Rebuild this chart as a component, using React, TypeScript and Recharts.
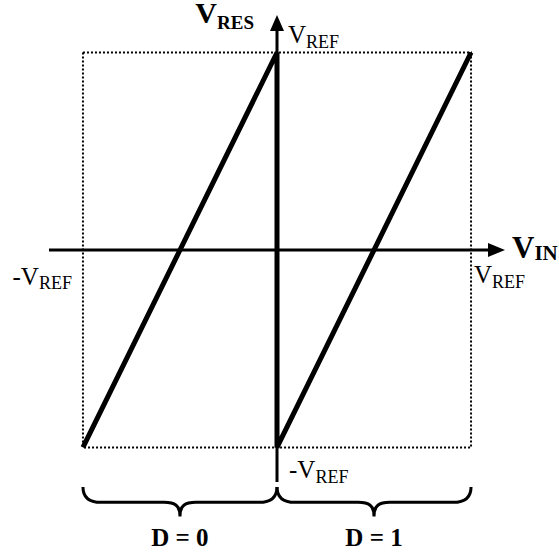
import React from "react";
import {
  ComposedChart,
  Line,
  XAxis,
  YAxis,
  ReferenceLine,
  ReferenceArea,
  ReferenceDot,
} from "recharts";

// transfer function, in units of V_REF
const inputLevels = [-1, 0, 0, 1];
const residueLevels = [-1, 1, -1, 1];

// axis extents (arrow tips)
const xAxisSpan = [-1.175, 1.175];
const yAxisSpan = [-1.175, 1.19];

// digital output regions under the plot
const regionNames = ["D = 0", "D = 1"];
const regionStarts = [-1, 0];
const regionEnds = [0, 1];
const braceTop = -1.2;
const braceBottom = -1.35;

const SERIF = "'Liberation Serif', 'Times New Roman', serif";

const data = inputLevels.map((x, i) => ({ x, y: residueLevels[i] }));

type LabelSpec = {
  x: number;
  y: number;
  main: string;
  sub: string;
  dx: number;
  dy: number;
  anchor: "start" | "end";
  bold?: boolean;
  size: number;
  subSize: number;
  subDy: number;
};

const labels: LabelSpec[] = [
  { x: 0, y: 1, main: "V", sub: "REF", dx: 11, dy: -10, anchor: "start", size: 25, subSize: 18, subDy: 5 },
  { x: -1, y: 0, main: "-V", sub: "REF", dx: -11, dy: 35, anchor: "end", size: 25, subSize: 18, subDy: 4 },
  { x: 1, y: 0, main: "V", sub: "REF", dx: 3, dy: 33, anchor: "start", size: 25, subSize: 18, subDy: 5 },
  { x: 0, y: -1, main: "-V", sub: "REF", dx: 12, dy: 31, anchor: "start", size: 25, subSize: 18, subDy: 5 },
  { x: xAxisSpan[1], y: 0, main: "V", sub: "IN", dx: 7, dy: 8, anchor: "start", bold: true, size: 31, subSize: 21, subDy: 2 },
  { x: 0, y: yAxisSpan[1], main: "V", sub: "RES", dx: -23, dy: 8, anchor: "end", bold: true, size: 30, subSize: 19, subDy: 6 },
];

const Brace = (props: any) => {
  const { x, y, width, height, name } = props;
  const mid = y + height * 0.52;
  const cx = x + width / 2;
  const b = y + height;
  const d = [
    `M ${x} ${y}`,
    `C ${x} ${y + 9} ${x + 5} ${mid} ${x + 18} ${mid}`,
    `L ${cx - 16} ${mid}`,
    `C ${cx - 5} ${mid} ${cx} ${mid + 3} ${cx} ${b}`,
    `C ${cx} ${mid + 3} ${cx + 5} ${mid} ${cx + 16} ${mid}`,
    `L ${x + width - 18} ${mid}`,
    `C ${x + width - 5} ${mid} ${x + width} ${y + 9} ${x + width} ${y}`,
  ].join(" ");
  return (
    <g>
      <path d={d} fill="none" stroke="#000" strokeWidth={3} />
      <text
        x={cx}
        y={b + 29}
        textAnchor="middle"
        fontFamily={SERIF}
        fontWeight="bold"
        fontSize={25}
        fill="#000"
      >
        {name}
      </text>
    </g>
  );
};

export default function App() {
  return (
    <div style={{ position: "absolute", left: 0, top: 0, background: "#fff" }}>
      <ComposedChart
        width={559}
        height={556}
        data={data}
        margin={{ top: 15, right: 54, bottom: 74, left: 49 }}
      >
        <XAxis type="number" dataKey="x" domain={xAxisSpan} hide allowDataOverflow />
        <YAxis type="number" dataKey="y" domain={yAxisSpan} hide allowDataOverflow />

        {/* dotted full-scale box */}
        <ReferenceArea
          x1={-1}
          x2={1}
          y1={-1}
          y2={1}
          fill="none"
          fillOpacity={0}
          stroke="#000"
          strokeWidth={2}
          strokeDasharray="2 2"
        />

        {/* axes */}
        <ReferenceLine
          segment={[{ x: xAxisSpan[0], y: 0 }, { x: xAxisSpan[1] - 0.06, y: 0 }]}
          stroke="#000"
          strokeWidth={3}
          ifOverflow="visible"
        />
        <ReferenceLine
          segment={[{ x: 0, y: yAxisSpan[0] }, { x: 0, y: yAxisSpan[1] - 0.06 }]}
          stroke="#000"
          strokeWidth={3}
          ifOverflow="visible"
        />
        <ReferenceDot
          x={xAxisSpan[1]}
          y={0}
          ifOverflow="visible"
          shape={(p: any) => (
            <polygon
              points={`${p.cx},${p.cy} ${p.cx - 17},${p.cy - 7} ${p.cx - 17},${p.cy + 7}`}
              fill="#000"
            />
          )}
        />
        <ReferenceDot
          x={0}
          y={yAxisSpan[1]}
          ifOverflow="visible"
          shape={(p: any) => (
            <polygon
              points={`${p.cx},${p.cy} ${p.cx - 7},${p.cy + 16} ${p.cx + 7},${p.cy + 16}`}
              fill="#000"
            />
          )}
        />

        {/* residue transfer curve */}
        <Line
          type="linear"
          dataKey="y"
          stroke="#000"
          strokeWidth={5}
          strokeLinejoin="bevel"
          dot={false}
          activeDot={false}
          isAnimationActive={false}
        />

        {/* braces for output code regions */}
        {regionNames.map((name, i) => (
          <ReferenceArea
            key={name}
            x1={regionStarts[i]}
            x2={regionEnds[i]}
            y1={braceBottom}
            y2={braceTop}
            ifOverflow="visible"
            shape={(p: any) => <Brace {...p} name={name} />}
          />
        ))}

        {labels.map((l, i) => (
          <ReferenceDot
            key={i}
            x={l.x}
            y={l.y}
            ifOverflow="visible"
            shape={(p: any) => (
              <text
                x={p.cx + l.dx}
                y={p.cy + l.dy}
                textAnchor={l.anchor}
                fontFamily={SERIF}
                fontWeight={l.bold ? "bold" : "normal"}
                fill="#000"
              >
                <tspan fontSize={l.size}>{l.main}</tspan>
                <tspan fontSize={l.subSize} dy={l.subDy}>
                  {l.sub}
                </tspan>
              </text>
            )}
          />
        ))}
      </ComposedChart>
    </div>
  );
}
